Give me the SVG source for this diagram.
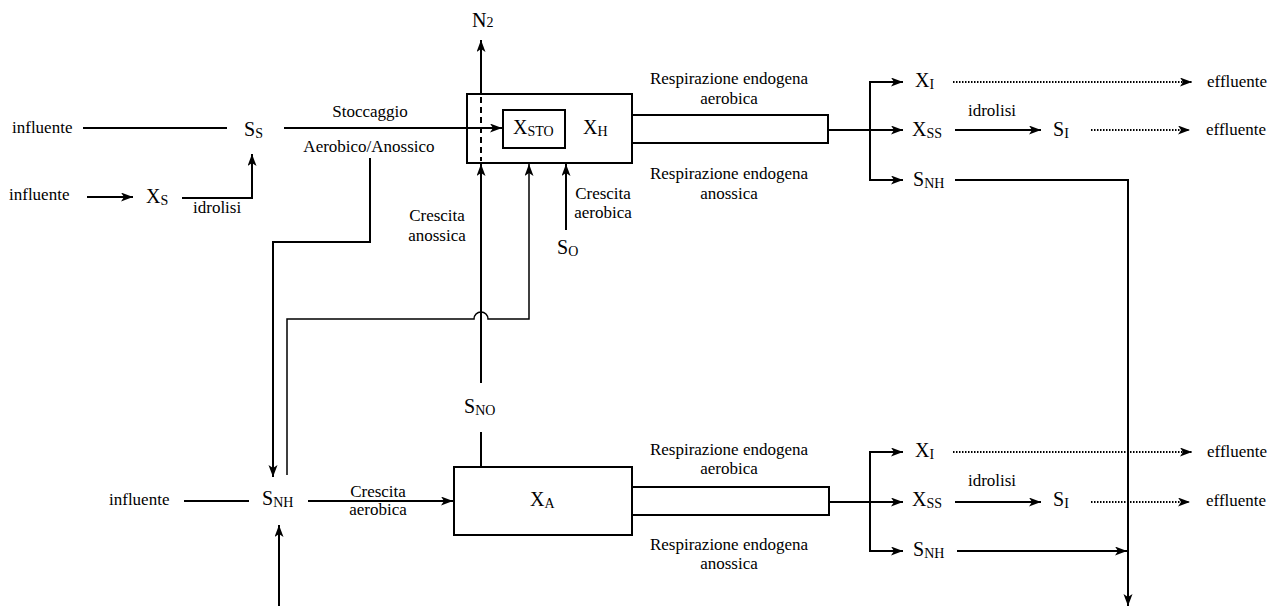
<svg xmlns="http://www.w3.org/2000/svg" width="1267" height="606" viewBox="0 0 1267 606">
<defs>
<marker id="ah" markerUnits="userSpaceOnUse" markerWidth="13" markerHeight="10" refX="12" refY="4.5" orient="auto">
<path d="M0,0 L12,4.5 L0,9 L3,4.5 z" fill="#000"/>
</marker>
</defs>
<style>
text{font-family:"Liberation Serif","Times New Roman",serif;fill:#000}
.lb{font-size:17px}
.v{font-size:20px}
.s{font-size:14px}
.c{text-anchor:middle}
.ln{fill:none;stroke:#000;stroke-width:2}
.th{fill:none;stroke:#000;stroke-width:1.5}
.dt{fill:none;stroke:#000;stroke-width:2;stroke-dasharray:1.5 1.5}
.ds{fill:none;stroke:#000;stroke-width:2;stroke-dasharray:6 4}
.bx{fill:#fff;stroke:#000;stroke-width:2}
</style>
<rect width="1267" height="606" fill="#fff"/>
<g id="connectors">
<path class="ln" d="M83,128 H227"/>
<path class="ln" d="M284,128 H502" marker-end="url(#ah)"/>
<path class="ln" d="M87,197 H133" marker-end="url(#ah)"/>
<path class="ln" d="M182,198 H252 V154" marker-end="url(#ah)"/>
<path class="ln" d="M370,158 V242 H273 V477" marker-end="url(#ah)"/>
<path class="th" d="M287,475 V319 H474 A7,7 0 0 1 488,319 H529 V164" marker-end="url(#ah)"/>
<path class="ln" d="M481,383 V164" marker-end="url(#ah)"/>
<path class="ln" d="M481,95 V40" marker-end="url(#ah)"/>
<path class="ln" d="M566,230 V164" marker-end="url(#ah)"/>
<path class="ln" d="M828,130 H903" marker-end="url(#ah)"/>
<path class="ln" d="M870,130 V82 H903" marker-end="url(#ah)"/>
<path class="ln" d="M870,130 V180 H903" marker-end="url(#ah)"/>
<path class="dt" d="M953,82 H1192" marker-end="url(#ah)"/>
<path class="ln" d="M955,130 H1041" marker-end="url(#ah)"/>
<path class="dt" d="M1091,130 H1190" marker-end="url(#ah)"/>
<path class="ln" d="M955,180 H1128 V606" marker-end="url(#ah)"/>
<path class="ln" d="M184,501 H249"/>
<path class="ln" d="M308,501 H453" marker-end="url(#ah)"/>
<path class="ln" d="M279,606 V525" marker-end="url(#ah)"/>
<path class="ln" d="M481,432 V467"/>
<path class="ln" d="M829,502 H903" marker-end="url(#ah)"/>
<path class="ln" d="M870,502 V452 H903" marker-end="url(#ah)"/>
<path class="ln" d="M870,502 V551 H903" marker-end="url(#ah)"/>
<path class="dt" d="M953,452 H1192" marker-end="url(#ah)"/>
<path class="ln" d="M955,502 H1041" marker-end="url(#ah)"/>
<path class="dt" d="M1091,502 H1190" marker-end="url(#ah)"/>
<path class="ln" d="M957,551 H1127" marker-end="url(#ah)"/>
</g>
<g id="XH">
<rect class="bx" x="467" y="94" width="165" height="69" style="fill:none"/>
<path class="ds" d="M481,97 V161"/>
<rect class="bx" x="632" y="115" width="196" height="28"/>
<text class="v" x="583" y="134">X<tspan class="s" dy="2">H</tspan></text>
</g>
<g id="XSTO">
<rect class="bx" x="503" y="110" width="62" height="38"/>
<text class="v" x="513" y="134">X<tspan class="s" dy="2">STO</tspan></text>
</g>
<g id="XA">
<rect class="bx" x="454" y="467" width="178" height="68"/>
<rect class="bx" x="632" y="487" width="197" height="28"/>
<text class="v" x="530" y="506">X<tspan class="s" dy="2">A</tspan></text>
</g>
<g id="labels">
<text class="lb" x="12" y="133">influente</text>
<text class="lb" x="9" y="200">influente</text>
<text class="lb" x="193" y="213">idrolisi</text>
<text class="lb c" x="370" y="117">Stoccaggio</text>
<text class="lb c" x="369" y="152">Aerobico/Anossico</text>
<text class="lb c" x="437" y="221">Crescita</text>
<text class="lb c" x="437" y="241">anossica</text>
<text class="lb c" x="603" y="199">Crescita</text>
<text class="lb c" x="603" y="218">aerobica</text>
<text class="lb c" x="729" y="84">Respirazione endogena</text>
<text class="lb c" x="729" y="104">aerobica</text>
<text class="lb c" x="729" y="179">Respirazione endogena</text>
<text class="lb c" x="729" y="199">anossica</text>
<text class="lb c" x="729" y="455">Respirazione endogena</text>
<text class="lb c" x="729" y="474">aerobica</text>
<text class="lb c" x="729" y="550">Respirazione endogena</text>
<text class="lb c" x="729" y="569">anossica</text>
<text class="lb" x="109" y="505">influente</text>
<text class="lb c" x="378" y="497">Crescita</text>
<text class="lb c" x="378" y="515">aerobica</text>
<text class="lb c" x="992" y="116">idrolisi</text>
<text class="lb c" x="992" y="486">idrolisi</text>
<text class="lb" x="1207" y="87">effluente</text>
<text class="lb" x="1206" y="135">effluente</text>
<text class="lb" x="1207" y="457">effluente</text>
<text class="lb" x="1206" y="506">effluente</text>
</g>
<g id="SS"><text class="v" x="244" y="136">S<tspan class="s" dy="2">S</tspan></text></g>
<g id="XS"><text class="v" x="146" y="203">X<tspan class="s" dy="2">S</tspan></text></g>
<g id="N2"><text class="v" x="472" y="27">N<tspan class="s" dy="0">2</tspan></text></g>
<g id="SO"><text class="v" x="557" y="254">S<tspan class="s" dy="2">O</tspan></text></g>
<g id="SNO"><text class="v" x="464" y="413">S<tspan class="s" dy="2">NO</tspan></text></g>
<g id="SNH"><text class="v" x="262" y="505">S<tspan class="s" dy="2">NH</tspan></text></g>
<g id="XI1"><text class="v" x="915" y="87">X<tspan class="s" dy="2">I</tspan></text></g>
<g id="XSS1"><text class="v" x="912" y="136">X<tspan class="s" dy="2">SS</tspan></text></g>
<g id="SI1"><text class="v" x="1053" y="136">S<tspan class="s" dy="2">I</tspan></text></g>
<g id="SNH1"><text class="v" x="913" y="186">S<tspan class="s" dy="2">NH</tspan></text></g>
<g id="XI2"><text class="v" x="915" y="457">X<tspan class="s" dy="2">I</tspan></text></g>
<g id="XSS2"><text class="v" x="912" y="506">X<tspan class="s" dy="2">SS</tspan></text></g>
<g id="SI2"><text class="v" x="1053" y="506">S<tspan class="s" dy="2">I</tspan></text></g>
<g id="SNH2"><text class="v" x="913" y="556">S<tspan class="s" dy="2">NH</tspan></text></g>
</svg>
